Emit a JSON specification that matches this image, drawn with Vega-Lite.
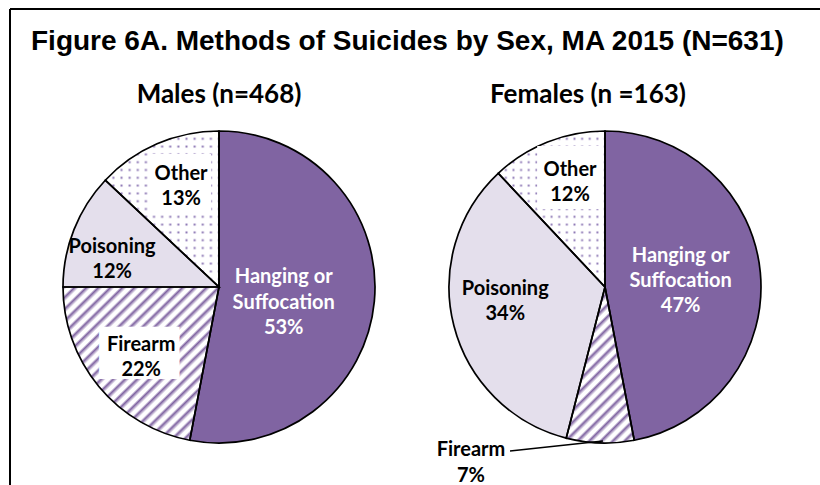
{
  "$schema": "https://vega.github.io/schema/vega-lite/v6.json",
  "width": 810,
  "height": 476,
  "autosize": "none",
  "padding": {"left": 10, "top": 9, "right": 0, "bottom": 0},
  "background": "white",
  "config": {"view": {"stroke": null}},
  "title": {
    "text": "Figure 6A. Methods of Suicides by Sex, MA 2015 (N=631)",
    "anchor": "start",
    "frame": "group",
    "dx": 21,
    "offset": -70,
    "baseline": "alphabetic",
    "font": "Liberation Sans",
    "fontSize": 28,
    "fontWeight": "bold",
    "color": "#000000"
  },
  "datasets": {
    "methods": [
      {"sex": "Males", "method": "Hanging or Suffocation", "pct": 53, "rank": 1, "label": "Hanging or\nSuffocation\n53%"},
      {"sex": "Males", "method": "Firearm", "pct": 22, "rank": 2, "label": "Firearm\n22%"},
      {"sex": "Males", "method": "Poisoning", "pct": 12, "rank": 3, "label": "Poisoning\n12%"},
      {"sex": "Males", "method": "Other", "pct": 13, "rank": 4, "label": "Other\n13%"},
      {"sex": "Females", "method": "Hanging or Suffocation", "pct": 47, "rank": 1, "label": "Hanging or\nSuffocation\n47%"},
      {"sex": "Females", "method": "Firearm", "pct": 7, "rank": 2, "label": "Firearm\n7%"},
      {"sex": "Females", "method": "Poisoning", "pct": 34, "rank": 3, "label": "Poisoning\n34%"},
      {"sex": "Females", "method": "Other", "pct": 12, "rank": 4, "label": "Other\n12%"}
    ],
    "panels": [
      {"sex": "Males", "label": "Males (n=468)"},
      {"sex": "Females", "label": "Females (n =163)"}
    ]
  },
  "data": {"name": "methods"},
  "layer": [
    {
      "data": {"values": [{"k": 1}]},
      "mark": {"type": "rule", "color": "#000000", "strokeWidth": 2},
      "encoding": {"y": {"value": 0}}
    },
    {
      "data": {"values": [{"k": 1}]},
      "mark": {"type": "rule", "color": "#000000", "strokeWidth": 2},
      "encoding": {"x": {"value": 0}}
    },
    {
      "data": {"name": "panels"},
      "transform": [{"filter": "datum.sex === 'Males'"}],
      "mark": {"type": "text", "font": "Lato", "fontWeight": "bold", "fontSize": 26, "baseline": "alphabetic", "align": "center", "yOffset": -144, "color": "#000000"},
      "encoding": {
        "x": {"field": "sex", "type": "nominal", "scale": {"type": "point", "domain": ["Males", "Females"], "range": [209, 595], "padding": 0}, "axis": null},
        "text": {"field": "label", "type": "nominal"}
      }
    },
    {
      "data": {"name": "panels"},
      "transform": [{"filter": "datum.sex === 'Females'"}],
      "mark": {"type": "text", "font": "Lato", "fontWeight": "bold", "fontSize": 26, "baseline": "alphabetic", "align": "center", "yOffset": -144, "dx": -17, "color": "#000000"},
      "encoding": {
        "x": {"field": "sex", "type": "nominal", "scale": {"type": "point", "domain": ["Males", "Females"], "range": [209, 595], "padding": 0}, "axis": null},
        "text": {"field": "label", "type": "nominal"}
      }
    },
    {
      "transform": [{"filter": "datum.sex === 'Males'"}],
      "encoding": {
        "x": {"field": "sex", "type": "nominal", "scale": {"type": "point", "domain": ["Males", "Females"], "range": [209, 595], "padding": 0}, "axis": null},
        "theta": {"field": "pct", "type": "quantitative", "stack": true, "scale": {"domain": [0, 100]}},
        "order": {"field": "rank", "type": "quantitative"}
      },
      "layer": [
        {
          "mark": {"type": "arc", "outerRadius": 156, "yOffset": 40},
          "encoding": {
            "fill": {
              "condition": [
                {"test": "datum.method === 'Hanging or Suffocation'", "value": "#8064A2"},
                {"test": "datum.method === 'Poisoning'", "value": "#E4DFEC"},
                {"test": "datum.method === 'Firearm'", "value": {"gradient": "linear", "x1": 0, "y1": 0, "x2": 1, "y2": 1, "stops": [
                  {"offset": 0, "color": "#7F63A1"}, {"offset": 0.0154, "color": "#FFFFFF"}, {"offset": 0.0288, "color": "#FFFFFF"},
                  {"offset": 0.0385, "color": "#7F63A1"}, {"offset": 0.0538, "color": "#FFFFFF"}, {"offset": 0.0673, "color": "#FFFFFF"},
                  {"offset": 0.0769, "color": "#7F63A1"}, {"offset": 0.0923, "color": "#FFFFFF"}, {"offset": 0.1058, "color": "#FFFFFF"},
                  {"offset": 0.1154, "color": "#7F63A1"}, {"offset": 0.1308, "color": "#FFFFFF"}, {"offset": 0.1442, "color": "#FFFFFF"},
                  {"offset": 0.1538, "color": "#7F63A1"}, {"offset": 0.1692, "color": "#FFFFFF"}, {"offset": 0.1827, "color": "#FFFFFF"},
                  {"offset": 0.1923, "color": "#7F63A1"}, {"offset": 0.2077, "color": "#FFFFFF"}, {"offset": 0.2212, "color": "#FFFFFF"},
                  {"offset": 0.2308, "color": "#7F63A1"}, {"offset": 0.2462, "color": "#FFFFFF"}, {"offset": 0.2596, "color": "#FFFFFF"},
                  {"offset": 0.2692, "color": "#7F63A1"}, {"offset": 0.2846, "color": "#FFFFFF"}, {"offset": 0.2981, "color": "#FFFFFF"},
                  {"offset": 0.3077, "color": "#7F63A1"}, {"offset": 0.3231, "color": "#FFFFFF"}, {"offset": 0.3365, "color": "#FFFFFF"},
                  {"offset": 0.3462, "color": "#7F63A1"}, {"offset": 0.3615, "color": "#FFFFFF"}, {"offset": 0.375, "color": "#FFFFFF"},
                  {"offset": 0.3846, "color": "#7F63A1"}, {"offset": 0.4, "color": "#FFFFFF"}, {"offset": 0.4135, "color": "#FFFFFF"},
                  {"offset": 0.4231, "color": "#7F63A1"}, {"offset": 0.4385, "color": "#FFFFFF"}, {"offset": 0.4519, "color": "#FFFFFF"},
                  {"offset": 0.4615, "color": "#7F63A1"}, {"offset": 0.4769, "color": "#FFFFFF"}, {"offset": 0.4904, "color": "#FFFFFF"},
                  {"offset": 0.5, "color": "#7F63A1"}, {"offset": 0.5154, "color": "#FFFFFF"}, {"offset": 0.5288, "color": "#FFFFFF"},
                  {"offset": 0.5385, "color": "#7F63A1"}, {"offset": 0.5538, "color": "#FFFFFF"}, {"offset": 0.5673, "color": "#FFFFFF"},
                  {"offset": 0.5769, "color": "#7F63A1"}, {"offset": 0.5923, "color": "#FFFFFF"}, {"offset": 0.6058, "color": "#FFFFFF"},
                  {"offset": 0.6154, "color": "#7F63A1"}, {"offset": 0.6308, "color": "#FFFFFF"}, {"offset": 0.6442, "color": "#FFFFFF"},
                  {"offset": 0.6538, "color": "#7F63A1"}, {"offset": 0.6692, "color": "#FFFFFF"}, {"offset": 0.6827, "color": "#FFFFFF"},
                  {"offset": 0.6923, "color": "#7F63A1"}, {"offset": 0.7077, "color": "#FFFFFF"}, {"offset": 0.7212, "color": "#FFFFFF"},
                  {"offset": 0.7308, "color": "#7F63A1"}, {"offset": 0.7462, "color": "#FFFFFF"}, {"offset": 0.7596, "color": "#FFFFFF"},
                  {"offset": 0.7692, "color": "#7F63A1"}, {"offset": 0.7846, "color": "#FFFFFF"}, {"offset": 0.7981, "color": "#FFFFFF"},
                  {"offset": 0.8077, "color": "#7F63A1"}, {"offset": 0.8231, "color": "#FFFFFF"}, {"offset": 0.8365, "color": "#FFFFFF"},
                  {"offset": 0.8462, "color": "#7F63A1"}, {"offset": 0.8615, "color": "#FFFFFF"}, {"offset": 0.875, "color": "#FFFFFF"},
                  {"offset": 0.8846, "color": "#7F63A1"}, {"offset": 0.9, "color": "#FFFFFF"}, {"offset": 0.9135, "color": "#FFFFFF"},
                  {"offset": 0.9231, "color": "#7F63A1"}, {"offset": 0.9385, "color": "#FFFFFF"}, {"offset": 0.9519, "color": "#FFFFFF"},
                  {"offset": 0.9615, "color": "#7F63A1"}, {"offset": 0.9769, "color": "#FFFFFF"}, {"offset": 0.9904, "color": "#FFFFFF"},
                  {"offset": 1, "color": "#7F63A1"}
                ]}}
              ],
              "value": "#8A74B3"
            }
          }
        },
        {
          "mark": {"type": "arc", "outerRadius": 156, "yOffset": 40},
          "encoding": {
            "fill": {
              "condition": {"test": "datum.method === 'Other'", "value": {"gradient": "linear", "x1": 0, "y1": 0, "x2": 1, "y2": 0, "stops": [
                {"offset": 0, "color": "rgba(255,255,255,0)"}, {"offset": 0.0179, "color": "#FFFFFF"}, {"offset": 0.0536, "color": "#FFFFFF"},
                {"offset": 0.0714, "color": "rgba(255,255,255,0)"}, {"offset": 0.0893, "color": "#FFFFFF"}, {"offset": 0.125, "color": "#FFFFFF"},
                {"offset": 0.1429, "color": "rgba(255,255,255,0)"}, {"offset": 0.1607, "color": "#FFFFFF"}, {"offset": 0.1964, "color": "#FFFFFF"},
                {"offset": 0.2143, "color": "rgba(255,255,255,0)"}, {"offset": 0.2321, "color": "#FFFFFF"}, {"offset": 0.2679, "color": "#FFFFFF"},
                {"offset": 0.2857, "color": "rgba(255,255,255,0)"}, {"offset": 0.3036, "color": "#FFFFFF"}, {"offset": 0.3393, "color": "#FFFFFF"},
                {"offset": 0.3571, "color": "rgba(255,255,255,0)"}, {"offset": 0.375, "color": "#FFFFFF"}, {"offset": 0.4107, "color": "#FFFFFF"},
                {"offset": 0.4286, "color": "rgba(255,255,255,0)"}, {"offset": 0.4464, "color": "#FFFFFF"}, {"offset": 0.4821, "color": "#FFFFFF"},
                {"offset": 0.5, "color": "rgba(255,255,255,0)"}, {"offset": 0.5179, "color": "#FFFFFF"}, {"offset": 0.5536, "color": "#FFFFFF"},
                {"offset": 0.5714, "color": "rgba(255,255,255,0)"}, {"offset": 0.5893, "color": "#FFFFFF"}, {"offset": 0.625, "color": "#FFFFFF"},
                {"offset": 0.6429, "color": "rgba(255,255,255,0)"}, {"offset": 0.6607, "color": "#FFFFFF"}, {"offset": 0.6964, "color": "#FFFFFF"},
                {"offset": 0.7143, "color": "rgba(255,255,255,0)"}, {"offset": 0.7321, "color": "#FFFFFF"}, {"offset": 0.7679, "color": "#FFFFFF"},
                {"offset": 0.7857, "color": "rgba(255,255,255,0)"}, {"offset": 0.8036, "color": "#FFFFFF"}, {"offset": 0.8393, "color": "#FFFFFF"},
                {"offset": 0.8571, "color": "rgba(255,255,255,0)"}, {"offset": 0.875, "color": "#FFFFFF"}, {"offset": 0.9107, "color": "#FFFFFF"},
                {"offset": 0.9286, "color": "rgba(255,255,255,0)"}, {"offset": 0.9464, "color": "#FFFFFF"}, {"offset": 0.9821, "color": "#FFFFFF"},
                {"offset": 1, "color": "rgba(255,255,255,0)"}
              ]}},
              "value": "rgba(255,255,255,0)"
            }
          }
        },
        {
          "mark": {"type": "arc", "outerRadius": 156, "yOffset": 40},
          "encoding": {
            "fill": {
              "condition": {"test": "datum.method === 'Other'", "value": {"gradient": "linear", "x1": 0, "y1": 0, "x2": 0, "y2": 1, "stops": [
                {"offset": 0, "color": "rgba(255,255,255,0)"}, {"offset": 0.0125, "color": "#FFFFFF"}, {"offset": 0.0375, "color": "#FFFFFF"},
                {"offset": 0.05, "color": "rgba(255,255,255,0)"}, {"offset": 0.0625, "color": "#FFFFFF"}, {"offset": 0.0875, "color": "#FFFFFF"},
                {"offset": 0.1, "color": "rgba(255,255,255,0)"}, {"offset": 0.1125, "color": "#FFFFFF"}, {"offset": 0.1375, "color": "#FFFFFF"},
                {"offset": 0.15, "color": "rgba(255,255,255,0)"}, {"offset": 0.1625, "color": "#FFFFFF"}, {"offset": 0.1875, "color": "#FFFFFF"},
                {"offset": 0.2, "color": "rgba(255,255,255,0)"}, {"offset": 0.2125, "color": "#FFFFFF"}, {"offset": 0.2375, "color": "#FFFFFF"},
                {"offset": 0.25, "color": "rgba(255,255,255,0)"}, {"offset": 0.2625, "color": "#FFFFFF"}, {"offset": 0.2875, "color": "#FFFFFF"},
                {"offset": 0.3, "color": "rgba(255,255,255,0)"}, {"offset": 0.3125, "color": "#FFFFFF"}, {"offset": 0.3375, "color": "#FFFFFF"},
                {"offset": 0.35, "color": "rgba(255,255,255,0)"}, {"offset": 0.3625, "color": "#FFFFFF"}, {"offset": 0.3875, "color": "#FFFFFF"},
                {"offset": 0.4, "color": "rgba(255,255,255,0)"}, {"offset": 0.4125, "color": "#FFFFFF"}, {"offset": 0.4375, "color": "#FFFFFF"},
                {"offset": 0.45, "color": "rgba(255,255,255,0)"}, {"offset": 0.4625, "color": "#FFFFFF"}, {"offset": 0.4875, "color": "#FFFFFF"},
                {"offset": 0.5, "color": "rgba(255,255,255,0)"}, {"offset": 0.5125, "color": "#FFFFFF"}, {"offset": 0.5375, "color": "#FFFFFF"},
                {"offset": 0.55, "color": "rgba(255,255,255,0)"}, {"offset": 0.5625, "color": "#FFFFFF"}, {"offset": 0.5875, "color": "#FFFFFF"},
                {"offset": 0.6, "color": "rgba(255,255,255,0)"}, {"offset": 0.6125, "color": "#FFFFFF"}, {"offset": 0.6375, "color": "#FFFFFF"},
                {"offset": 0.65, "color": "rgba(255,255,255,0)"}, {"offset": 0.6625, "color": "#FFFFFF"}, {"offset": 0.6875, "color": "#FFFFFF"},
                {"offset": 0.7, "color": "rgba(255,255,255,0)"}, {"offset": 0.7125, "color": "#FFFFFF"}, {"offset": 0.7375, "color": "#FFFFFF"},
                {"offset": 0.75, "color": "rgba(255,255,255,0)"}, {"offset": 0.7625, "color": "#FFFFFF"}, {"offset": 0.7875, "color": "#FFFFFF"},
                {"offset": 0.8, "color": "rgba(255,255,255,0)"}, {"offset": 0.8125, "color": "#FFFFFF"}, {"offset": 0.8375, "color": "#FFFFFF"},
                {"offset": 0.85, "color": "rgba(255,255,255,0)"}, {"offset": 0.8625, "color": "#FFFFFF"}, {"offset": 0.8875, "color": "#FFFFFF"},
                {"offset": 0.9, "color": "rgba(255,255,255,0)"}, {"offset": 0.9125, "color": "#FFFFFF"}, {"offset": 0.9375, "color": "#FFFFFF"},
                {"offset": 0.95, "color": "rgba(255,255,255,0)"}, {"offset": 0.9625, "color": "#FFFFFF"}, {"offset": 0.9875, "color": "#FFFFFF"},
                {"offset": 1, "color": "rgba(255,255,255,0)"}
              ]}},
              "value": "rgba(255,255,255,0)"
            }
          }
        },
        {
          "mark": {"type": "arc", "outerRadius": 156, "yOffset": 40, "fill": "transparent", "stroke": "#000000", "strokeWidth": 1.7}
        },
        {
          "mark": {"type": "text", "radius": 98, "dx": 1, "dy": -12, "yOffset": 40, "font": "DejaVu Sans Mono", "fontSize": 49, "align": "center", "baseline": "middle", "color": "#FFFFFF"},
          "encoding": {"text": {"condition": {"test": "datum.method === 'Other'", "value": "██"}, "value": ""}}
        },
        {
          "mark": {"type": "text", "radius": 101, "dx": -2, "dy": 4, "yOffset": 40, "font": "DejaVu Sans Mono", "fontSize": 44, "align": "center", "baseline": "middle", "color": "#FFFFFF"},
          "encoding": {"text": {"condition": {"test": "datum.method === 'Firearm'", "value": "███"}, "value": ""}}
        },
        {
          "mark": {"type": "text", "radius": 65, "dy": -16, "yOffset": 40, "font": "Lato", "fontWeight": "bold", "fontSize": 20, "lineHeight": 25.5, "lineBreak": "\n", "align": "center", "baseline": "middle", "color": "#FFFFFF"},
          "encoding": {"text": {"field": "label", "type": "nominal", "condition": {"test": "datum.method !== 'Hanging or Suffocation'", "value": ""}}}
        },
        {
          "mark": {"type": "text", "radius": 101, "dy": -6, "yOffset": 40, "font": "Lato", "fontWeight": "bold", "fontSize": 20, "lineHeight": 25, "lineBreak": "\n", "align": "center", "baseline": "middle", "color": "#000000"},
          "encoding": {"text": {"field": "label", "type": "nominal", "condition": {"test": "datum.method !== 'Firearm'", "value": ""}}}
        },
        {
          "mark": {"type": "text", "radius": 115, "dy": 2, "yOffset": 40, "font": "Lato", "fontWeight": "bold", "fontSize": 20, "lineHeight": 25, "lineBreak": "\n", "align": "center", "baseline": "middle", "color": "#000000"},
          "encoding": {"text": {"field": "label", "type": "nominal", "condition": {"test": "datum.method !== 'Poisoning'", "value": ""}}}
        },
        {
          "mark": {"type": "text", "radius": 98, "dx": 1, "dy": -23, "yOffset": 40, "font": "Lato", "fontWeight": "bold", "fontSize": 20, "lineHeight": 25, "lineBreak": "\n", "align": "center", "baseline": "middle", "color": "#000000"},
          "encoding": {"text": {"field": "label", "type": "nominal", "condition": {"test": "datum.method !== 'Other'", "value": ""}}}
        }
      ]
    },
    {
      "transform": [{"filter": "datum.sex === 'Females'"}],
      "encoding": {
        "x": {"field": "sex", "type": "nominal", "scale": {"type": "point", "domain": ["Males", "Females"], "range": [209, 595], "padding": 0}, "axis": null},
        "theta": {"field": "pct", "type": "quantitative", "stack": true, "scale": {"domain": [0, 100]}},
        "order": {"field": "rank", "type": "quantitative"}
      },
      "layer": [
        {
          "mark": {"type": "arc", "outerRadius": 156, "yOffset": 40},
          "encoding": {
            "fill": {
              "condition": [
                {"test": "datum.method === 'Hanging or Suffocation'", "value": "#8064A2"},
                {"test": "datum.method === 'Poisoning'", "value": "#E4DFEC"},
                {"test": "datum.method === 'Firearm'", "value": {"gradient": "linear", "x1": 0, "y1": 0, "x2": 0.526, "y2": 1.207, "stops": [
                  {"offset": 0, "color": "#7F63A1"}, {"offset": 0.0211, "color": "#FFFFFF"}, {"offset": 0.0395, "color": "#FFFFFF"},
                  {"offset": 0.0526, "color": "#7F63A1"}, {"offset": 0.0737, "color": "#FFFFFF"}, {"offset": 0.0921, "color": "#FFFFFF"},
                  {"offset": 0.1053, "color": "#7F63A1"}, {"offset": 0.1263, "color": "#FFFFFF"}, {"offset": 0.1447, "color": "#FFFFFF"},
                  {"offset": 0.1579, "color": "#7F63A1"}, {"offset": 0.1789, "color": "#FFFFFF"}, {"offset": 0.1974, "color": "#FFFFFF"},
                  {"offset": 0.2105, "color": "#7F63A1"}, {"offset": 0.2316, "color": "#FFFFFF"}, {"offset": 0.25, "color": "#FFFFFF"},
                  {"offset": 0.2632, "color": "#7F63A1"}, {"offset": 0.2842, "color": "#FFFFFF"}, {"offset": 0.3026, "color": "#FFFFFF"},
                  {"offset": 0.3158, "color": "#7F63A1"}, {"offset": 0.3368, "color": "#FFFFFF"}, {"offset": 0.3553, "color": "#FFFFFF"},
                  {"offset": 0.3684, "color": "#7F63A1"}, {"offset": 0.3895, "color": "#FFFFFF"}, {"offset": 0.4079, "color": "#FFFFFF"},
                  {"offset": 0.4211, "color": "#7F63A1"}, {"offset": 0.4421, "color": "#FFFFFF"}, {"offset": 0.4605, "color": "#FFFFFF"},
                  {"offset": 0.4737, "color": "#7F63A1"}, {"offset": 0.4947, "color": "#FFFFFF"}, {"offset": 0.5132, "color": "#FFFFFF"},
                  {"offset": 0.5263, "color": "#7F63A1"}, {"offset": 0.5474, "color": "#FFFFFF"}, {"offset": 0.5658, "color": "#FFFFFF"},
                  {"offset": 0.5789, "color": "#7F63A1"}, {"offset": 0.6, "color": "#FFFFFF"}, {"offset": 0.6184, "color": "#FFFFFF"},
                  {"offset": 0.6316, "color": "#7F63A1"}, {"offset": 0.6526, "color": "#FFFFFF"}, {"offset": 0.6711, "color": "#FFFFFF"},
                  {"offset": 0.6842, "color": "#7F63A1"}, {"offset": 0.7053, "color": "#FFFFFF"}, {"offset": 0.7237, "color": "#FFFFFF"},
                  {"offset": 0.7368, "color": "#7F63A1"}, {"offset": 0.7579, "color": "#FFFFFF"}, {"offset": 0.7763, "color": "#FFFFFF"},
                  {"offset": 0.7895, "color": "#7F63A1"}, {"offset": 0.8105, "color": "#FFFFFF"}, {"offset": 0.8289, "color": "#FFFFFF"},
                  {"offset": 0.8421, "color": "#7F63A1"}, {"offset": 0.8632, "color": "#FFFFFF"}, {"offset": 0.8816, "color": "#FFFFFF"},
                  {"offset": 0.8947, "color": "#7F63A1"}, {"offset": 0.9158, "color": "#FFFFFF"}, {"offset": 0.9342, "color": "#FFFFFF"},
                  {"offset": 0.9474, "color": "#7F63A1"}, {"offset": 0.9684, "color": "#FFFFFF"}, {"offset": 0.9868, "color": "#FFFFFF"},
                  {"offset": 1, "color": "#7F63A1"}
                ]}}
              ],
              "value": "#8A74B3"
            }
          }
        },
        {
          "mark": {"type": "arc", "outerRadius": 156, "yOffset": 40},
          "encoding": {
            "fill": {
              "condition": {"test": "datum.method === 'Other'", "value": {"gradient": "linear", "x1": 0, "y1": 0, "x2": 1, "y2": 0, "stops": [
                {"offset": 0, "color": "rgba(255,255,255,0)"}, {"offset": 0.0179, "color": "#FFFFFF"}, {"offset": 0.0536, "color": "#FFFFFF"},
                {"offset": 0.0714, "color": "rgba(255,255,255,0)"}, {"offset": 0.0893, "color": "#FFFFFF"}, {"offset": 0.125, "color": "#FFFFFF"},
                {"offset": 0.1429, "color": "rgba(255,255,255,0)"}, {"offset": 0.1607, "color": "#FFFFFF"}, {"offset": 0.1964, "color": "#FFFFFF"},
                {"offset": 0.2143, "color": "rgba(255,255,255,0)"}, {"offset": 0.2321, "color": "#FFFFFF"}, {"offset": 0.2679, "color": "#FFFFFF"},
                {"offset": 0.2857, "color": "rgba(255,255,255,0)"}, {"offset": 0.3036, "color": "#FFFFFF"}, {"offset": 0.3393, "color": "#FFFFFF"},
                {"offset": 0.3571, "color": "rgba(255,255,255,0)"}, {"offset": 0.375, "color": "#FFFFFF"}, {"offset": 0.4107, "color": "#FFFFFF"},
                {"offset": 0.4286, "color": "rgba(255,255,255,0)"}, {"offset": 0.4464, "color": "#FFFFFF"}, {"offset": 0.4821, "color": "#FFFFFF"},
                {"offset": 0.5, "color": "rgba(255,255,255,0)"}, {"offset": 0.5179, "color": "#FFFFFF"}, {"offset": 0.5536, "color": "#FFFFFF"},
                {"offset": 0.5714, "color": "rgba(255,255,255,0)"}, {"offset": 0.5893, "color": "#FFFFFF"}, {"offset": 0.625, "color": "#FFFFFF"},
                {"offset": 0.6429, "color": "rgba(255,255,255,0)"}, {"offset": 0.6607, "color": "#FFFFFF"}, {"offset": 0.6964, "color": "#FFFFFF"},
                {"offset": 0.7143, "color": "rgba(255,255,255,0)"}, {"offset": 0.7321, "color": "#FFFFFF"}, {"offset": 0.7679, "color": "#FFFFFF"},
                {"offset": 0.7857, "color": "rgba(255,255,255,0)"}, {"offset": 0.8036, "color": "#FFFFFF"}, {"offset": 0.8393, "color": "#FFFFFF"},
                {"offset": 0.8571, "color": "rgba(255,255,255,0)"}, {"offset": 0.875, "color": "#FFFFFF"}, {"offset": 0.9107, "color": "#FFFFFF"},
                {"offset": 0.9286, "color": "rgba(255,255,255,0)"}, {"offset": 0.9464, "color": "#FFFFFF"}, {"offset": 0.9821, "color": "#FFFFFF"},
                {"offset": 1, "color": "rgba(255,255,255,0)"}
              ]}},
              "value": "rgba(255,255,255,0)"
            }
          }
        },
        {
          "mark": {"type": "arc", "outerRadius": 156, "yOffset": 40},
          "encoding": {
            "fill": {
              "condition": {"test": "datum.method === 'Other'", "value": {"gradient": "linear", "x1": 0, "y1": 0, "x2": 0, "y2": 1, "stops": [
                {"offset": 0, "color": "rgba(255,255,255,0)"}, {"offset": 0.0125, "color": "#FFFFFF"}, {"offset": 0.0375, "color": "#FFFFFF"},
                {"offset": 0.05, "color": "rgba(255,255,255,0)"}, {"offset": 0.0625, "color": "#FFFFFF"}, {"offset": 0.0875, "color": "#FFFFFF"},
                {"offset": 0.1, "color": "rgba(255,255,255,0)"}, {"offset": 0.1125, "color": "#FFFFFF"}, {"offset": 0.1375, "color": "#FFFFFF"},
                {"offset": 0.15, "color": "rgba(255,255,255,0)"}, {"offset": 0.1625, "color": "#FFFFFF"}, {"offset": 0.1875, "color": "#FFFFFF"},
                {"offset": 0.2, "color": "rgba(255,255,255,0)"}, {"offset": 0.2125, "color": "#FFFFFF"}, {"offset": 0.2375, "color": "#FFFFFF"},
                {"offset": 0.25, "color": "rgba(255,255,255,0)"}, {"offset": 0.2625, "color": "#FFFFFF"}, {"offset": 0.2875, "color": "#FFFFFF"},
                {"offset": 0.3, "color": "rgba(255,255,255,0)"}, {"offset": 0.3125, "color": "#FFFFFF"}, {"offset": 0.3375, "color": "#FFFFFF"},
                {"offset": 0.35, "color": "rgba(255,255,255,0)"}, {"offset": 0.3625, "color": "#FFFFFF"}, {"offset": 0.3875, "color": "#FFFFFF"},
                {"offset": 0.4, "color": "rgba(255,255,255,0)"}, {"offset": 0.4125, "color": "#FFFFFF"}, {"offset": 0.4375, "color": "#FFFFFF"},
                {"offset": 0.45, "color": "rgba(255,255,255,0)"}, {"offset": 0.4625, "color": "#FFFFFF"}, {"offset": 0.4875, "color": "#FFFFFF"},
                {"offset": 0.5, "color": "rgba(255,255,255,0)"}, {"offset": 0.5125, "color": "#FFFFFF"}, {"offset": 0.5375, "color": "#FFFFFF"},
                {"offset": 0.55, "color": "rgba(255,255,255,0)"}, {"offset": 0.5625, "color": "#FFFFFF"}, {"offset": 0.5875, "color": "#FFFFFF"},
                {"offset": 0.6, "color": "rgba(255,255,255,0)"}, {"offset": 0.6125, "color": "#FFFFFF"}, {"offset": 0.6375, "color": "#FFFFFF"},
                {"offset": 0.65, "color": "rgba(255,255,255,0)"}, {"offset": 0.6625, "color": "#FFFFFF"}, {"offset": 0.6875, "color": "#FFFFFF"},
                {"offset": 0.7, "color": "rgba(255,255,255,0)"}, {"offset": 0.7125, "color": "#FFFFFF"}, {"offset": 0.7375, "color": "#FFFFFF"},
                {"offset": 0.75, "color": "rgba(255,255,255,0)"}, {"offset": 0.7625, "color": "#FFFFFF"}, {"offset": 0.7875, "color": "#FFFFFF"},
                {"offset": 0.8, "color": "rgba(255,255,255,0)"}, {"offset": 0.8125, "color": "#FFFFFF"}, {"offset": 0.8375, "color": "#FFFFFF"},
                {"offset": 0.85, "color": "rgba(255,255,255,0)"}, {"offset": 0.8625, "color": "#FFFFFF"}, {"offset": 0.8875, "color": "#FFFFFF"},
                {"offset": 0.9, "color": "rgba(255,255,255,0)"}, {"offset": 0.9125, "color": "#FFFFFF"}, {"offset": 0.9375, "color": "#FFFFFF"},
                {"offset": 0.95, "color": "rgba(255,255,255,0)"}, {"offset": 0.9625, "color": "#FFFFFF"}, {"offset": 0.9875, "color": "#FFFFFF"},
                {"offset": 1, "color": "rgba(255,255,255,0)"}
              ]}},
              "value": "rgba(255,255,255,0)"
            }
          }
        },
        {
          "mark": {"type": "arc", "outerRadius": 156, "yOffset": 40, "fill": "transparent", "stroke": "#000000", "strokeWidth": 1.7}
        },
        {
          "mark": {"type": "text", "radius": 95, "dy": -19, "yOffset": 40, "font": "DejaVu Sans Mono", "fontSize": 53, "align": "center", "baseline": "middle", "color": "#FFFFFF"},
          "encoding": {"text": {"condition": {"test": "datum.method === 'Other'", "value": "██"}, "value": ""}}
        },
        {
          "mark": {"type": "text", "radius": 76, "dy": -24, "yOffset": 40, "font": "Lato", "fontWeight": "bold", "fontSize": 20, "lineHeight": 25, "lineBreak": "\n", "align": "center", "baseline": "middle", "color": "#FFFFFF"},
          "encoding": {"text": {"field": "label", "type": "nominal", "condition": {"test": "datum.method !== 'Hanging or Suffocation'", "value": ""}}}
        },
        {
          "mark": {"type": "text", "radius": 103, "dy": -24, "yOffset": 40, "font": "Lato", "fontWeight": "bold", "fontSize": 20, "lineHeight": 25, "lineBreak": "\n", "align": "center", "baseline": "middle", "color": "#000000"},
          "encoding": {"text": {"field": "label", "type": "nominal", "condition": {"test": "datum.method !== 'Poisoning'", "value": ""}}}
        },
        {
          "mark": {"type": "text", "radius": 95, "dy": -29, "yOffset": 40, "font": "Lato", "fontWeight": "bold", "fontSize": 20, "lineHeight": 25, "lineBreak": "\n", "align": "center", "baseline": "middle", "color": "#000000"},
          "encoding": {"text": {"field": "label", "type": "nominal", "condition": {"test": "datum.method !== 'Other'", "value": ""}}}
        },
        {
          "mark": {"type": "text", "radius": 161, "dx": -129, "dy": 2, "yOffset": 40, "font": "Lato", "fontWeight": "bold", "fontSize": 20, "lineHeight": 26, "lineBreak": "\n", "align": "center", "baseline": "middle", "color": "#000000"},
          "encoding": {"text": {"field": "label", "type": "nominal", "condition": {"test": "datum.method !== 'Firearm'", "value": ""}}}
        },
        {
          "transform": [{"filter": "datum.method === 'Firearm'"}],
          "mark": {"type": "rule", "color": "#000000", "strokeWidth": 1.5, "xOffset": -95, "x2Offset": -2},
          "encoding": {
            "x2": {"field": "sex"},
            "y": {"value": 442},
            "y2": {"value": 432}
          }
        }
      ]
    }
  ]
}
